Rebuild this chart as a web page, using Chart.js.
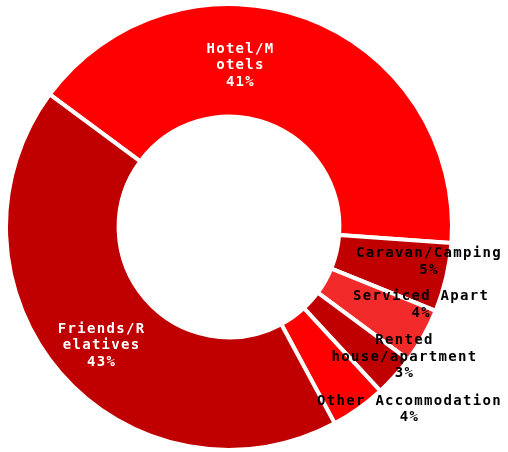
<!DOCTYPE html>
<html>
<head>
<meta charset="utf-8">
<script src="https://cdn.jsdelivr.net/npm/chart.js@4/dist/chart.umd.min.js"></script>
<style>
  html, body { margin: 0; padding: 0; background: #ffffff; }
  #wrap { width: 508px; height: 452px; position: relative; }
</style>
</head>
<body>
<div id="wrap"><canvas id="c"></canvas></div>
<script>
// Accommodation type shares (percent)
const categories = ['Hotel/Motels', 'Caravan/Camping', 'Serviced Apart', 'Rented house/apartment', 'Other Accommodation', 'Friends/Relatives'];
const shares = [41, 5, 4, 3, 4, 43];
// Label text as it is wrapped on the chart
const labelLines = [
  ['Hotel/M', 'otels'],
  ['Caravan/Camping'],
  ['Serviced Apart'],
  ['Rented', 'house/apartment'],
  ['Other Accommodation'],
  ['Friends/R', 'elatives']
];

// Slice styling
const sliceColors = ['#ff0000', '#c00000', '#f22a2a', '#c00000', '#ff0000', '#c00000'];
const labelColors = ['#ffffff', '#000000', '#000000', '#000000', '#000000', '#ffffff'];
// Label anchor per slice: t = fraction along the slice angle, r = fraction of outer radius
const labelAnchor = [
  { t: 0.39, r: 0.726 },
  { t: 0.32, r: 0.91 },
  { t: 0.0, r: 0.93 },
  { t: 0.01, r: 0.98 },
  { t: -0.14, r: 1.15 },
  { t: 0.487, r: 0.78 }
];

const sliceLabels = {
  id: 'sliceLabels',
  afterDatasetsDraw(chart) {
    const ctx = chart.ctx;
    const meta = chart.getDatasetMeta(0);
    ctx.save();
    ctx.font = 'bold 14px "DejaVu Sans Mono", "Liberation Mono", monospace';
    if ('letterSpacing' in ctx) ctx.letterSpacing = '1.3px';
    ctx.textAlign = 'center';
    ctx.textBaseline = 'middle';
    const lineH = 16.5;
    meta.data.forEach((arc, i) => {
      const p = arc.getProps(['x', 'y', 'startAngle', 'endAngle', 'outerRadius'], true);
      const a = p.startAngle + labelAnchor[i].t * (p.endAngle - p.startAngle);
      const rr = labelAnchor[i].r * p.outerRadius;
      const cx = p.x + Math.cos(a) * rr;
      const cy = p.y + Math.sin(a) * rr;
      const lines = labelLines[i].concat([shares[i] + '%']);
      const top = cy - (lines.length - 1) * lineH / 2;
      ctx.fillStyle = labelColors[i];
      lines.forEach((ln, k) => ctx.fillText(ln, cx, top + k * lineH));
    });
    ctx.restore();
  }
};

new Chart(document.getElementById('c'), {
  type: 'doughnut',
  data: {
    labels: categories,
    datasets: [{
      data: shares,
      backgroundColor: sliceColors,
      borderColor: '#ffffff',
      borderWidth: 4,
      hoverOffset: 0
    }]
  },
  options: {
    responsive: true,
    maintainAspectRatio: false,
    animation: false,
    rotation: -53.5,
    cutout: '49.5%',
    layout: { padding: { left: 4, top: 2, right: 54, bottom: 0 } },
    plugins: {
      legend: { display: false },
      tooltip: { enabled: false }
    }
  },
  plugins: [sliceLabels]
});
</script>
</body>
</html>
